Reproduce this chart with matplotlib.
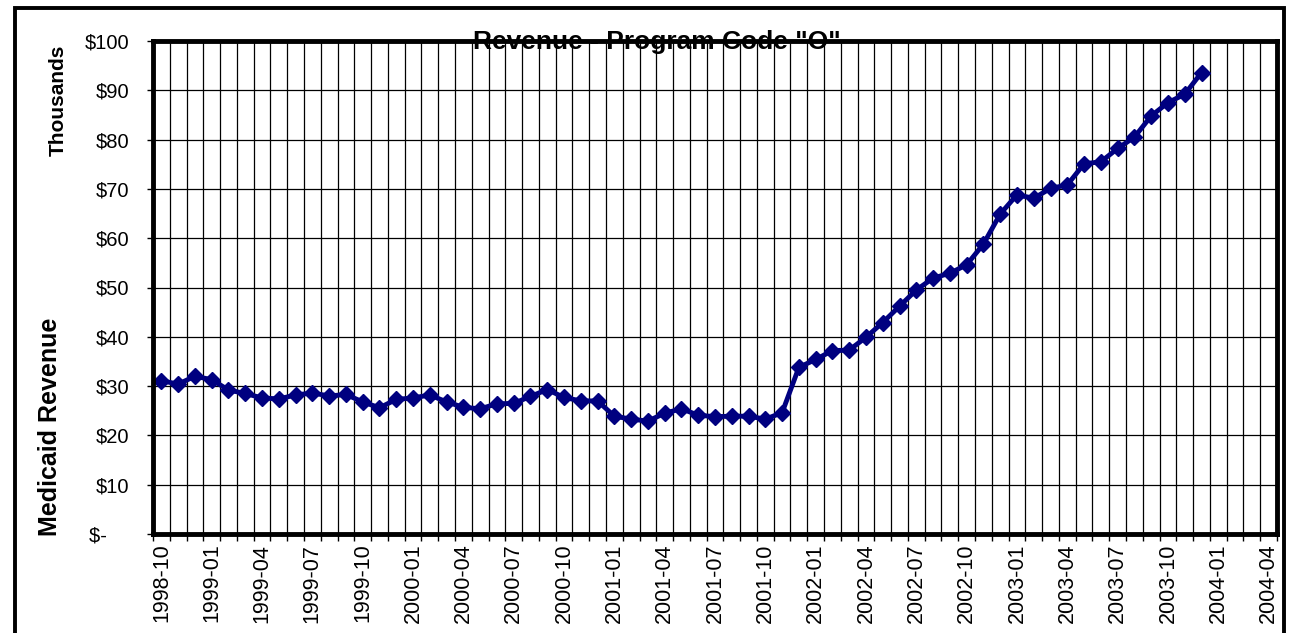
import matplotlib.pyplot as plt
from matplotlib.patches import Rectangle

plt.rcParams["font.family"] = ["Liberation Sans", "DejaVu Sans"]

# months shown on the category axis (1998-10 .. 2004-04)
months = []
for y in range(1998, 2005):
    for m in range(1, 13):
        if (y, m) >= (1998, 10) and (y, m) <= (2004, 4):
            months.append(f"{y}-{m:02d}")

# revenue in thousands of dollars, 1998-10 .. 2003-12
revenue = [31.1, 30.4, 32.0, 31.3, 29.2, 28.5, 27.6, 27.4, 28.2, 28.6,
           28.0, 28.3, 26.8, 25.6, 27.3, 27.6, 28.2, 26.8, 25.7, 25.4,
           26.4, 26.5, 27.9, 29.3, 27.7, 27.0, 27.0, 23.9, 23.3, 22.9,
           24.5, 25.4, 24.1, 23.8, 23.9, 23.9, 23.3, 24.6, 33.8, 35.4,
           37.2, 37.3, 39.9, 42.9, 46.2, 49.5, 51.9, 52.9, 54.6, 58.8,
           64.9, 68.8, 68.1, 70.1, 70.8, 75.1, 75.5, 78.2, 80.5, 84.8,
           87.5, 89.2, 93.6]

y_ticks = list(range(0, 101, 10))
# accounting style zero label sits further left
y_labels = ["$-    "] + [f"${v}" for v in y_ticks[1:]]

fig = plt.figure(figsize=(12.9, 6.33), dpi=100)
ax = fig.add_axes([153 / 1290, 1 - 534 / 633, (1277 - 153) / 1290, (534 - 41) / 633])

x = list(range(len(revenue)))
ax.plot(x, revenue, color="#000080", linewidth=3.5, marker="D", markersize=8,
        markeredgecolor="#000080", zorder=3)

ax.set_xlim(-0.5, len(months) - 0.5)
ax.set_ylim(0, 100)

# labels every third month, grid at month boundaries
ax.set_xticks(range(0, len(months), 3))
ax.set_xticklabels(months[::3], rotation=90, fontsize=15.5)
ax.set_xticks([i - 0.5 for i in range(len(months) + 1)], minor=True)
ax.tick_params(axis="x", which="major", length=0, pad=7)
ax.tick_params(axis="x", which="minor", length=5, width=1, direction="out")
ax.grid(True, which="minor", axis="x", color="black", linewidth=0.9)

ax.set_yticks(y_ticks)
ax.set_yticklabels(y_labels, fontsize=14.5)
ax.tick_params(axis="y", length=4, width=1, direction="out", pad=13)
ax.grid(True, which="major", axis="y", color="black", linewidth=0.9)
ax.set_axisbelow(True)

for s in ax.spines.values():
    s.set_linewidth(3.5)
    s.set_zorder(5)

# title sits under the top border, as in the original
ax.text(657 / 1290, 1 - 49 / 633, 'Revenue - Program Code "O"', transform=fig.transFigure,
        fontsize=19, fontweight="bold", ha="center", va="baseline", zorder=4)

fig.text(50 / 1290, 1 - 427 / 633, "Medicaid Revenue", rotation=90, fontsize=18,
         fontweight="bold", ha="center", va="center")
fig.text(58 / 1290, 1 - 100 / 633, "Thousands", rotation=90, fontsize=15,
         fontweight="bold", ha="center", va="center")

# outer chart frame
fig.patches.append(Rectangle((15 / 1290, -0.05), (1284 - 15) / 1290, 1.05 - 8 / 633,
                             transform=fig.transFigure, fill=False,
                             edgecolor="black", linewidth=2.8))

fig.savefig("out.png", dpi=100)
